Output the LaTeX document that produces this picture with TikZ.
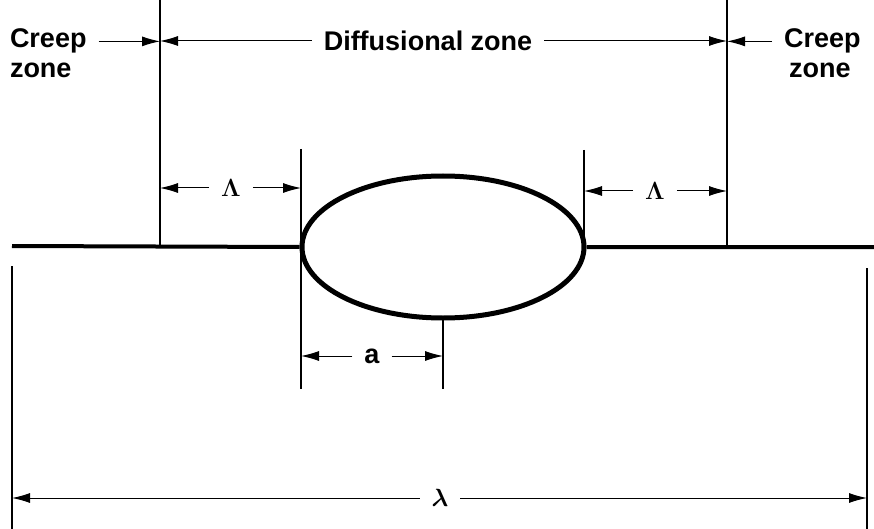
\documentclass[tikz,border=0pt]{standalone}
\usepackage{fontspec}
\setmainfont{Liberation Sans}
\usepackage{tikz}
\usetikzlibrary{arrows.meta,calc,positioning,shapes.geometric}

\begin{document}
\begin{tikzpicture}[x=1pt,y=-1pt,>={Latex[length=18pt,width=10pt]},
    lbl/.style={font=\fontsize{27}{32}\selectfont\bfseries,inner sep=0pt,outer xsep=12pt},
    sym/.style={font=\fontsize{26}{30}\selectfont\boldmath,inner sep=0pt,outer xsep=12pt},
    bound/.style={line width=1.4pt},
    dim/.style={->,line width=1pt},
    surf/.style={line width=4pt}]
  \useasboundingbox (0,0) rectangle (874,529);
  % void on the boundary
  \node[ellipse,draw,line width=5pt,minimum width=282pt,minimum height=142pt,inner sep=0pt] (void) at (443,247) {};
  \foreach \nm/\x/\ya/\yb in {cl/160/0/246,cr/727/0/246,vl/301/149/389,vr/584/150/246,ac/443/320/389,ol/12/266/529,or/867/268/529}{
    \coordinate (\nm t) at (\x,\ya);
    \coordinate (\nm b) at (\x,\yb);
    \draw[bound] (\nm t) -- (\nm b);
  }
  \coordinate (gl) at (12,246);
  \coordinate (gr) at (874,247);
  \draw[surf] (gl) -- (void.west) (void.east) -- (gr);
  % zone labels
  \node[lbl,anchor=base west] (creepl) at (-2,48) {Creep};
  \node[lbl,anchor=base west] (zonel) at (-2,78) {zone};
  \node[lbl] (diff) at (428,41) {Diffusional zone};
  \node[lbl,anchor=base west] (creepr) at (772,48) {Creep};
  \node[lbl,anchor=base west] (zoner) at (777,78) {zone};
  \draw[dim] (creepl.east) -- (creepl.east -| clt);
  \draw[dim] (diff.west) -- (diff.west -| clt);
  \draw[dim] (diff.east) -- (diff.east -| crt);
  \draw[dim] (creepr.west) -- (creepr.west -| crt);
  % dimensions
  \node[sym] (lamL) at (231,188) {$\Lambda$};
  \node[sym] (lamR) at (655,191) {$\Lambda$};
  \node[lbl] (arad) at (372,356) {a};
  \node[sym] (wave) at (440,498) {$\lambda$};
  \draw[dim] (lamL.west) -- (lamL.west -| clt);
  \draw[dim] (lamL.east) -- (lamL.east -| vlt);
  \draw[dim] (lamR.west) -- (lamR.west -| vrt);
  \draw[dim] (lamR.east) -- (lamR.east -| crt);
  \draw[dim] (arad.west) -- (arad.west -| vlt);
  \draw[dim] (arad.east) -- (arad.east -| act);
  \draw[dim] (wave.west) -- (wave.west -| olt);
  \draw[dim] (wave.east) -- (wave.east -| ort);
\end{tikzpicture}
\end{document}
